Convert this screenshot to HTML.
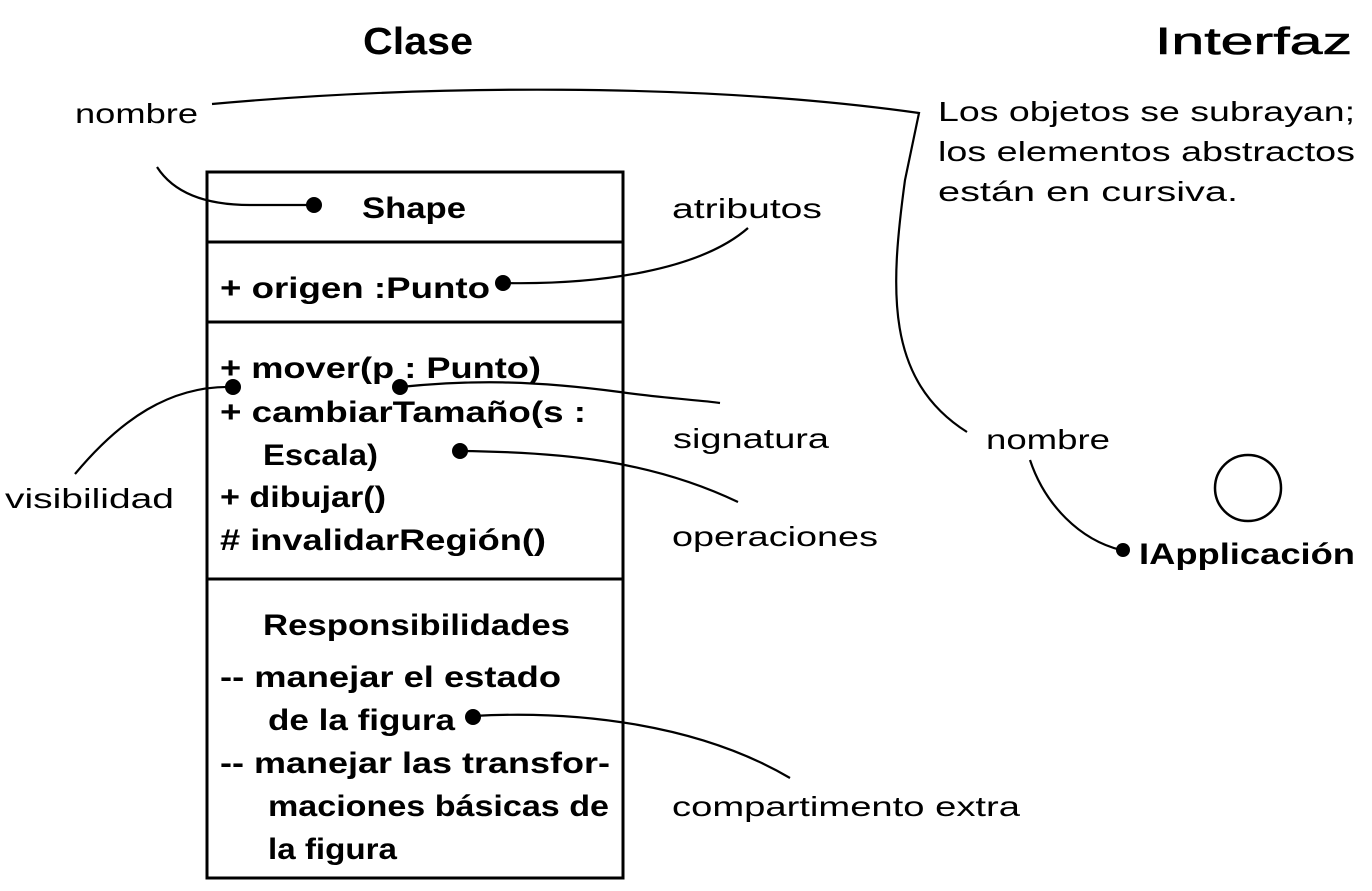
<!DOCTYPE html>
<html><head><meta charset="utf-8"><style>
html,body{margin:0;padding:0;background:#fff}
svg{display:block}
text{font-family:"Liberation Sans",Arial,sans-serif;fill:#000}
.b{font-weight:bold;font-size:30px}
.n{font-size:28px}
</style></head><body>
<svg width="1372" height="891" viewBox="0 0 1372 891">
<text x="363" y="54" font-weight="bold" font-size="38" textLength="110" lengthAdjust="spacingAndGlyphs">Clase</text>
<text x="1155" y="54" font-size="38" stroke="#000" stroke-width="0.6" textLength="197" lengthAdjust="spacingAndGlyphs">Interfaz</text>

<rect x="207" y="172" width="416" height="706" fill="none" stroke="#000" stroke-width="3"/>
<line x1="207" y1="242" x2="623" y2="242" stroke="#000" stroke-width="3"/>
<line x1="207" y1="322" x2="623" y2="322" stroke="#000" stroke-width="3"/>
<line x1="207" y1="579" x2="623" y2="579" stroke="#000" stroke-width="3"/>

<g class="b">
<text x="362" y="218" textLength="104" lengthAdjust="spacingAndGlyphs">Shape</text>
<text x="220" y="298" textLength="270" lengthAdjust="spacingAndGlyphs">+ origen :Punto</text>
<text x="220" y="378" textLength="321" lengthAdjust="spacingAndGlyphs">+ mover(p : Punto)</text>
<text x="220" y="422" textLength="366" lengthAdjust="spacingAndGlyphs">+ cambiarTamaño(s :</text>
<text x="263" y="465" textLength="115" lengthAdjust="spacingAndGlyphs">Escala)</text>
<text x="220" y="507" textLength="166" lengthAdjust="spacingAndGlyphs">+ dibujar()</text>
<text x="220" y="550" textLength="326" lengthAdjust="spacingAndGlyphs"># invalidarRegión()</text>
<text x="263" y="635" textLength="307" lengthAdjust="spacingAndGlyphs">Responsibilidades</text>
<text x="220" y="687" textLength="341" lengthAdjust="spacingAndGlyphs">-- manejar el estado</text>
<text x="268" y="730" textLength="187" lengthAdjust="spacingAndGlyphs">de la figura</text>
<text x="220" y="773" textLength="390" lengthAdjust="spacingAndGlyphs">-- manejar las transfor-</text>
<text x="268" y="816" textLength="341" lengthAdjust="spacingAndGlyphs">maciones básicas de</text>
<text x="268" y="859" textLength="129" lengthAdjust="spacingAndGlyphs">la figura</text>
<text x="1139" y="564" textLength="216" lengthAdjust="spacingAndGlyphs">IApplicación</text>
</g>

<g class="n">
<text x="75" y="123" textLength="123" lengthAdjust="spacingAndGlyphs">nombre</text>
<text x="672" y="218" textLength="150" lengthAdjust="spacingAndGlyphs">atributos</text>
<text x="673" y="448" textLength="156" lengthAdjust="spacingAndGlyphs">signatura</text>
<text x="672" y="546" textLength="206" lengthAdjust="spacingAndGlyphs">operaciones</text>
<text x="672" y="816" textLength="348" lengthAdjust="spacingAndGlyphs">compartimento extra</text>
<text x="5" y="508" textLength="169" lengthAdjust="spacingAndGlyphs">visibilidad</text>
<text x="986" y="449" textLength="124" lengthAdjust="spacingAndGlyphs">nombre</text>
<text x="938" y="121" textLength="417" lengthAdjust="spacingAndGlyphs">Los objetos se subrayan;</text>
<text x="938" y="161" textLength="417" lengthAdjust="spacingAndGlyphs">los elementos abstractos</text>
<text x="938" y="201" textLength="300" lengthAdjust="spacingAndGlyphs">están en cursiva.</text>
</g>

<g fill="none" stroke="#000" stroke-width="2.2">
<path d="M212,104 C 420,85 700,82 919,113 L 905,180 C 890,290 885,380 967,432"/>
<path d="M157,167 C 175,195 210,205 250,205 L 314,205"/>
<path d="M503,283 C 600,285 700,270 748,228"/>
<path d="M400,387 C 470,380 530,380 620,392 C 660,398 700,400 720,403"/>
<path d="M233,387 C 170,385 120,420 75,474"/>
<path d="M460,451 C 560,452 650,460 738,502"/>
<path d="M473,716 C 580,710 700,725 790,778"/>
<path d="M1030,460 C 1045,505 1080,540 1121,550"/>
</g>
<g fill="#000">
<circle cx="314" cy="205" r="8"/>
<circle cx="503" cy="283" r="8"/>
<circle cx="400" cy="387" r="8"/>
<circle cx="233" cy="387" r="8"/>
<circle cx="460" cy="451" r="8"/>
<circle cx="473" cy="717" r="8"/>
<circle cx="1123" cy="550" r="7"/>
</g>
<circle cx="1248" cy="488" r="33" fill="none" stroke="#000" stroke-width="2.5"/>
</svg>
</body></html>
